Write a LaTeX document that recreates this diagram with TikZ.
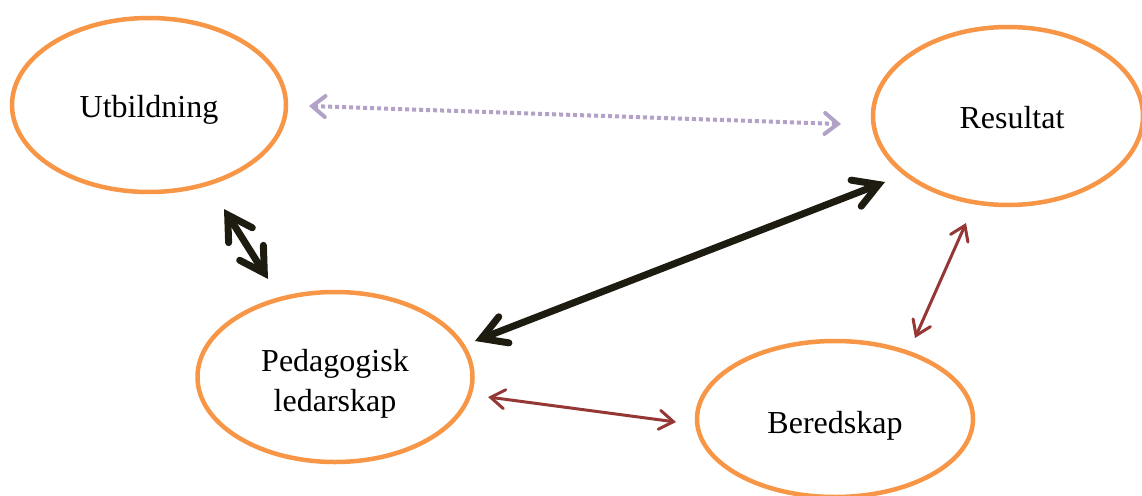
\documentclass[tikz,border=0pt]{standalone}
\usepackage{fontspec}
\setmainfont{Liberation Serif}
\usetikzlibrary{shapes.geometric,arrows.meta}
\definecolor{ringorange}{HTML}{F79646}
\definecolor{lilac}{HTML}{B3A2C7}
\definecolor{brickred}{HTML}{953735}
\definecolor{inkblack}{HTML}{1E1C11}
\tikzset{
  ring/.style={ellipse, draw=ringorange, line width=4.5pt, inner sep=0pt, align=center,
    font=\fontsize{32}{40}\selectfont},
  heavylink/.style={line width=7pt, draw=inkblack, line cap=round,
    {Straight Barb[length=24pt,width=28pt,line cap=round]}-{Straight Barb[length=24pt,width=28pt,line cap=round]}},
  redlink/.style={line width=3pt, draw=brickred, line cap=round,
    {Straight Barb[length=14pt,width=19pt,line cap=round]}-{Straight Barb[length=14pt,width=19pt,line cap=round]}},
  dotlink/.style={line width=4pt, draw=lilac, dash pattern=on 4pt off 3pt,
    {Straight Barb[length=13pt,width=21pt,line cap=round]}-{Straight Barb[length=13pt,width=21pt,line cap=round]}},
}
\begin{document}
\begin{tikzpicture}[x=1pt,y=-1pt]
\useasboundingbox (0,0) rectangle (1142,495);
\node[ring, minimum width=274pt, minimum height=174pt] (utb) at (149,105) {\raisebox{-5pt}[\height][\depth]{Utbildning}};
\node[ring, minimum width=270pt, minimum height=178pt] (res) at (1008,116) {\hspace*{8pt}\raisebox{-2pt}[\height][\depth]{Resultat}};
\node[ring, minimum width=275pt, minimum height=170pt] (ped) at (335,377) {\raisebox{-6pt}[\height][\depth]{\begin{tabular}{@{}c@{}}Pedagogisk\\ledarskap\end{tabular}}};
\node[ring, minimum width=276pt, minimum height=156pt] (ber) at (835,419) {\raisebox{-7pt}[\height][\depth]{Beredskap}};
% connector end points, next to the rings
\coordinate (utbR) at (309,106);
\coordinate (resL) at (841,124);
\coordinate (utbB) at (224,209);
\coordinate (pedT) at (268,279);
\coordinate (pedR) at (475,341);
\coordinate (resBL) at (885,182);
\coordinate (pedR2) at (488,397);
\coordinate (berL) at (676,422);
\coordinate (berT) at (915,338);
\coordinate (resB) at (966,223);
\draw[dotlink] (utbR) -- (resL);
\draw[heavylink] (utbB) -- (pedT);
\draw[heavylink] (pedR) -- (resBL);
\draw[redlink] (pedR2) -- (berL);
\draw[redlink] (berT) -- (resB);
\end{tikzpicture}
\end{document}
